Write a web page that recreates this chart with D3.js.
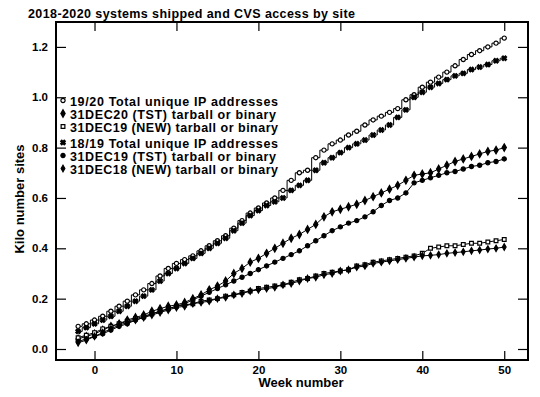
<!DOCTYPE html>
<html lang="en">
<head>
<meta charset="utf-8">
<title>2018-2020 systems shipped and CVS access by site</title>
<script src="https://d3js.org/d3.v7.min.js"></script>
<style>
  body { margin: 0; background: #fff; }
  text { font-family: "Liberation Sans", Arial, sans-serif; font-weight: bold; fill: #000; }
</style>
</head>
<body>
<script>
// weeks -2 .. 50
const weeks = d3.range(-2, 51);

// 19/20 Total unique IP addresses
const total1920 = [0.09, 0.10, 0.115, 0.13, 0.15, 0.17, 0.19, 0.215, 0.235, 0.26, 0.29, 0.32, 0.34, 0.355, 0.37, 0.39, 0.41,
  0.43, 0.45, 0.48, 0.51, 0.54, 0.56, 0.58, 0.60, 0.63, 0.67, 0.70, 0.71, 0.76, 0.79, 0.815, 0.83, 0.85, 0.865, 0.89,
  0.91, 0.925, 0.94, 0.955, 0.99, 1.01, 1.04, 1.06, 1.08, 1.10, 1.125, 1.15, 1.17, 1.185, 1.20, 1.215, 1.235];
// 31DEC20 (TST) tarball or binary
const tst20 = [0.04, 0.05, 0.06, 0.075, 0.09, 0.10, 0.115, 0.125, 0.135, 0.15, 0.16, 0.17, 0.175, 0.185, 0.20, 0.215, 0.235,
  0.25, 0.27, 0.30, 0.32, 0.345, 0.36, 0.38, 0.40, 0.42, 0.44, 0.455, 0.475, 0.495, 0.525, 0.545, 0.555, 0.565, 0.575,
  0.59, 0.605, 0.62, 0.635, 0.65, 0.67, 0.69, 0.695, 0.70, 0.715, 0.73, 0.745, 0.755, 0.765, 0.775, 0.785, 0.79, 0.80];
// 31DEC19 (NEW) tarball or binary
const new19 = [0.045, 0.055, 0.065, 0.08, 0.09, 0.10, 0.11, 0.12, 0.13, 0.14, 0.15, 0.16, 0.17, 0.175, 0.18, 0.19, 0.195,
  0.20, 0.21, 0.215, 0.225, 0.23, 0.24, 0.245, 0.25, 0.255, 0.265, 0.275, 0.28, 0.29, 0.30, 0.305, 0.31, 0.315, 0.33,
  0.335, 0.345, 0.35, 0.355, 0.36, 0.365, 0.37, 0.38, 0.40, 0.405, 0.41, 0.41, 0.415, 0.42, 0.42, 0.425, 0.43, 0.435];
// 18/19 Total unique IP addresses
const total1819 = [0.07, 0.085, 0.10, 0.115, 0.13, 0.15, 0.17, 0.19, 0.21, 0.235, 0.27, 0.30, 0.32, 0.34, 0.36, 0.38, 0.40,
  0.42, 0.44, 0.47, 0.50, 0.53, 0.55, 0.57, 0.585, 0.60, 0.63, 0.65, 0.67, 0.71, 0.74, 0.76, 0.78, 0.80, 0.815, 0.83,
  0.85, 0.87, 0.89, 0.92, 0.95, 1.00, 1.02, 1.04, 1.055, 1.07, 1.085, 1.095, 1.11, 1.12, 1.13, 1.145, 1.155];
// 31DEC19 (TST) tarball or binary
const tst19 = [0.03, 0.04, 0.05, 0.06, 0.075, 0.09, 0.10, 0.115, 0.125, 0.14, 0.15, 0.16, 0.17, 0.18, 0.195, 0.21, 0.225,
  0.24, 0.255, 0.27, 0.285, 0.30, 0.315, 0.33, 0.345, 0.36, 0.375, 0.39, 0.41, 0.43, 0.45, 0.47, 0.485, 0.50, 0.51,
  0.525, 0.545, 0.57, 0.59, 0.60, 0.62, 0.66, 0.67, 0.68, 0.69, 0.70, 0.705, 0.715, 0.725, 0.73, 0.74, 0.745, 0.755];
// 31DEC18 (NEW) tarball or binary
const new18 = [0.025, 0.035, 0.05, 0.065, 0.08, 0.095, 0.105, 0.115, 0.125, 0.135, 0.145, 0.155, 0.165, 0.17, 0.18, 0.185, 0.19,
  0.20, 0.205, 0.215, 0.22, 0.23, 0.235, 0.24, 0.245, 0.255, 0.26, 0.27, 0.28, 0.285, 0.295, 0.30, 0.31, 0.315, 0.325,
  0.33, 0.34, 0.345, 0.35, 0.355, 0.36, 0.365, 0.37, 0.372, 0.375, 0.38, 0.383, 0.386, 0.39, 0.393, 0.397, 0.40, 0.405];

const seriesNames = ["19/20 Total unique IP addresses", "31DEC20 (TST) tarball or binary", "31DEC19 (NEW) tarball or binary",
  "18/19 Total unique IP addresses", "31DEC19 (TST) tarball or binary", "31DEC18 (NEW) tarball or binary"];
const xTicks = [0, 10, 20, 30, 40, 50];
const yTicks = [0, 0.2, 0.4, 0.6, 0.8, 1.0, 1.2];

const w = 540, h = 397;
const padL = 56, padR = 528, padT = 22, padB = 360;

const svg = d3.select("body").append("svg").attr("width", w).attr("height", h);

const x = d3.scaleLinear().domain([-4.7, 52.9]).range([padL, padR]);
const y = d3.scaleLinear().domain([-0.0437, 1.299]).range([padB, padT]);

// series: data, marker, stepped?
const series = [
  { values: total1920, sym: d3.symbolCircle, size: 14, fill: "#fff", step: true },
  { values: tst20, sym: d3.symbolDiamond, size: 16, fill: "#000", step: false },
  { values: new19, sym: d3.symbolSquare, size: 14, fill: "#fff", step: false },
  { values: total1819, sym: d3.symbolCross, size: 14, fill: "#000", step: true, x: true },
  { values: tst19, sym: d3.symbolCircle, size: 14, fill: "#000", step: false },
  { values: new18, sym: d3.symbolDiamond, size: 12, fill: "#000", step: false }
];

// title
svg.append("text").attr("x", 28).attr("y", 18).attr("font-size", 12.5)
  .attr("textLength", 327).attr("lengthAdjust", "spacing")
  .text("2018-2020 systems shipped and CVS access by site");

// axes (ticks inward)
svg.append("g").attr("transform", "translate(0," + padB + ")")
  .call(d3.axisBottom(x).tickValues(xTicks).tickSizeInner(-9).tickSizeOuter(0).tickPadding(6).tickFormat(d3.format("d")))
  .call(g => g.select(".domain").remove());
svg.append("g").attr("transform", "translate(0," + padT + ")")
  .call(d3.axisTop(x).tickValues(xTicks).tickSizeInner(-9).tickSizeOuter(0).tickFormat(""))
  .call(g => g.select(".domain").remove());
svg.append("g").attr("transform", "translate(" + padL + ",0)")
  .call(d3.axisLeft(y).tickValues(yTicks).tickSizeInner(-10).tickSizeOuter(0).tickPadding(8).tickFormat(d3.format(".1f")))
  .call(g => g.select(".domain").remove());
svg.append("g").attr("transform", "translate(" + padR + ",0)")
  .call(d3.axisRight(y).tickValues(yTicks).tickSizeInner(-10).tickSizeOuter(0).tickFormat(""))
  .call(g => g.select(".domain").remove());

svg.selectAll(".tick line").attr("stroke", "#000").attr("stroke-width", 1.2);
svg.selectAll(".tick text").attr("font-size", 11.5).attr("font-family", "Liberation Sans, Arial, sans-serif").attr("font-weight", "bold");

// frame
svg.append("rect").attr("x", padL).attr("y", padT).attr("width", padR - padL).attr("height", padB - padT)
  .attr("fill", "none").attr("stroke", "#000").attr("stroke-width", 2);

// axis titles
svg.append("text").attr("x", 301).attr("y", 387).attr("text-anchor", "middle")
  .attr("font-size", 13).text("Week number");
svg.append("text").attr("transform", "translate(24," + 199 + ") rotate(-90)").attr("text-anchor", "middle")
  .attr("font-size", 13).text("Kilo number sites");

// lines and markers
series.forEach(function (s) {
  const pts = weeks.map(function (wk, i) { return [wk, s.values[i]]; });
  const line = d3.line()
    .x(function (d) { return x(d[0]); })
    .y(function (d) { return y(d[1]); })
    .curve(s.step ? d3.curveStep : d3.curveLinear);
  svg.append("path").datum(pts).attr("d", line)
    .attr("fill", "none").attr("stroke", "#000").attr("stroke-width", 1);
  svg.append("g").selectAll("path").data(pts).enter().append("path")
    .attr("transform", function (d) { return "translate(" + x(d[0]) + "," + y(d[1]) + ")" + (s.x ? " rotate(45)" : ""); })
    .attr("d", d3.symbol().type(s.sym).size(s.size))
    .attr("fill", s.fill).attr("stroke", "#000").attr("stroke-width", 1.2);
});

// legend
const legendY = [101, 114, 127, 143, 156, 169];
const legendLen = [208, 206, 208, 208, 206, 208];
series.forEach(function (s, i) {
  svg.append("path")
    .attr("transform", "translate(63," + (legendY[i] - 0.5) + ")" + (s.x ? " rotate(45)" : ""))
    .attr("d", d3.symbol().type(s.sym).size(s.size))
    .attr("fill", s.fill).attr("stroke", "#000").attr("stroke-width", 1.2);
  svg.append("text").attr("x", 70).attr("y", legendY[i] + 4.5)
    .attr("font-size", 12.5).attr("textLength", legendLen[i]).attr("lengthAdjust", "spacing")
    .text(seriesNames[i]);
});
</script>
</body>
</html>
